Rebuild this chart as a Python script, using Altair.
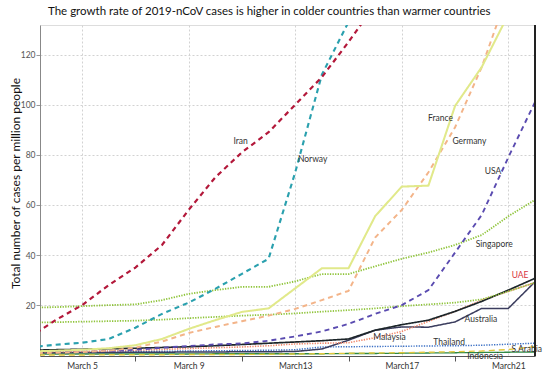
import altair as alt
import pandas as pd

# ---------------- data ----------------
days = list(range(3, 23))  # March 3 .. March 22

iran      = [7, 14, 20, 28, 35, 44, 58, 71, 81, 89, 100, 111, 125, 140]
norway    = [3.1, 4.2, 5, 6.5, 11, 16.5, 21, 26.5, 32.5, 38.5, 73, 112, 133]
france    = [1.5, 1.8, 2.2, 2.8, 4, 6.5, 10.5, 14, 17.3, 18.7, 26.7, 34.7, 34.7, 55.5, 67.3, 67.7, 99.5, 115, 136]
germany   = [0.8, 1.0, 1.3, 1.8, 3, 5.5, 8.9, 11.3, 13.6, 15.8, 18.5, 22, 25.7, 47, 58, 73, 91, 115, 145]
usa       = [1.0, 1.2, 1.4, 1.7, 2.2, 3.0, 3.7, 4.3, 4.7, 5.8, 7.5, 9.5, 12.5, 16.5, 20, 26, 41, 56, 79, 101]
singapore = [19, 19.2, 19.6, 20, 20.3, 22, 24.5, 26, 27.3, 27.3, 29.5, 32.4, 32.4, 35.5, 38.5, 41, 44, 48, 55.5, 62]
green2    = [13, 13.2, 13.4, 13.6, 13.8, 14.2, 14.8, 15.3, 15.8, 16.2, 16.7, 17.4, 18, 18.7, 19.6, 20.3, 21, 22.3, 25.5, 29]
uae       = [2.0, 2.2, 2.4, 2.6, 2.8, 3.1, 3.4, 3.8, 4.3, 4.8, 5.3, 5.8, 6.5, 10, 12.2, 14, 17.5, 21.5, 26, 30.7]
australia = [1.0, 1.0, 1.1, 1.1, 1.2, 1.2, 1.3, 1.3, 1.4, 1.4, 1.5, 2.5, 6, 10, 11.3, 11.2, 13.3, 18.7, 18.7, 29.3]
malaysia  = [1.3, 1.4, 1.5, 1.7, 2.0, 2.3, 2.7, 3.0, 3.3, 3.8, 4.5, 4.8, 5.0, 7.0, 9.5, 13.5, 17.5, 22, 25.5, 29]
thailand  = [1.2, 1.2, 1.3, 1.4, 1.5, 1.6, 1.7, 1.8, 1.9, 2.0, 2.2, 3.3, 3.4, 3.5, 3.6, 3.7, 3.8, 4.0, 4.4, 4.8]
sarabia   = [0.1, 0.1, 0.1, 0.2, 0.2, 0.2, 0.3, 0.3, 0.3, 0.4, 0.5, 0.6, 0.8, 0.9, 1.0, 1.2, 1.4, 1.7, 2.3, 3.4]
indonesia = [0.5, 0.5, 0.5, 0.5, 0.5, 0.5, 0.5, 0.6, 0.6, 0.6, 0.6, 0.6, 0.7, 0.7, 0.8, 0.9, 1.0, 1.1, 1.2, 1.3]

series = {
    "Indonesia": indonesia, "S.Arabia": sarabia, "Thailand": thailand,
    "Australia": australia, "Malaysia": malaysia, "UAE": uae,
    "Green2": green2, "Singapore": singapore, "USA": usa,
    "Germany": germany, "France": france, "Norway": norway, "Iran": iran,
}

label_text  = ["Iran", "Norway", "France", "Germany", "USA", "Singapore", "UAE",
               "Australia", "Malaysia", "Thailand", "Indonesia", "S.Arabia"]
label_day   = [10.95, 13.1, 18.45, 18.9, 20.42, 20.47, 21.44, 19.97, 16.54, 18.78, 20.13, 21.69]
label_value = [85.4, 78.4, 94.6, 85.4, 73.7, 44.3, 32.0, 14.4, 7.2, 5.2, -0.3, 2.5]
label_align = ["center", "left", "center", "left", "center", "center", "center",
               "center", "center", "center", "center", "center"]

rows = []
for name, vals in series.items():
    for d, v in zip(days, vals):
        rows.append({"country": name, "day": d, "value": v})
df = pd.DataFrame(rows)

lab = pd.DataFrame({"label": label_text, "day": label_day, "value": label_value, "align": label_align})

names = list(series.keys())
colors = {
    "Indonesia": "#2f8a45", "S.Arabia": "#e2c73c", "Thailand": "#3a6fc4",
    "Australia": "#3b3d5e", "Malaysia": "#f0876a", "UAE": "#1c2529",
    "Green2": "#8fc43a", "Singapore": "#8fc43a", "USA": "#5a4bb0",
    "Germany": "#f3b489", "France": "#e1e98a", "Norway": "#2aa0ae", "Iran": "#b3183a",
}
dashes = {
    "Indonesia": [1, 0], "S.Arabia": [6, 4], "Thailand": [1.3, 1.3],
    "Australia": [1, 0], "Malaysia": [1.3, 1.3], "UAE": [1, 0],
    "Green2": [1.3, 1.3], "Singapore": [1.3, 1.3], "USA": [5, 4],
    "Germany": [5, 4], "France": [1, 0], "Norway": [5, 4], "Iran": [5, 4],
}
widths = {
    "Indonesia": 1.3, "S.Arabia": 2.2, "Thailand": 1.3,
    "Australia": 1.1, "Malaysia": 1.3, "UAE": 1.3,
    "Green2": 1.4, "Singapore": 1.4, "USA": 1.3,
    "Germany": 1.3, "France": 1.3, "Norway": 1.3, "Iran": 1.3,
}

W, H = 495, 331
xscale = alt.Scale(domain=[3.42, 22.0], nice=False, zero=False)
yscale = alt.Scale(domain=[-0.3, 131.8], nice=False, zero=False)

label_expr = ("datum.value == 5 ? 'March 5' : datum.value == 9 ? 'March 9' : "
              "(datum.value == 13 || datum.value == 17 || datum.value == 21) ? 'March' + datum.value : ''")

lines = alt.Chart(df).mark_line(clip=True).encode(
    x=alt.X("day:Q", scale=xscale, title=None,
            axis=alt.Axis(values=[5, 7, 9, 11, 13, 15, 17, 19, 21], labelExpr=label_expr,
                          grid=True, gridDash=[2, 2], gridColor="#d2d2d2",
                          gridOpacity={"condition": {"test": "(datum.value - 5) % 4 == 0", "value": 1}, "value": 0},
                          tickOpacity={"condition": {"test": "(datum.value - 7) % 4 == 0", "value": 1}, "value": 0},
                          tickSize=5, tickColor="#555", domainColor="#555",
                          labelFontSize=8.5, labelColor="#333", labelPadding=0,
                          labelFont="Lato", labelFlush=False)),
    y=alt.Y("value:Q", scale=yscale,
            title="Total number of cases per million people",
            axis=alt.Axis(values=[20, 40, 60, 80, 100, 120], grid=True, gridDash=[2, 2],
                          gridColor="#d2d2d2", tickSize=4, tickColor="#999", domainColor="#888",
                          labelFontSize=8.5, labelColor="#555", labelPadding=1, labelFont="Lato",
                          titleFont="Lato", titleFontSize=12, titleFontWeight="normal",
                          titleColor="#111", titleAngle=-90, titleAlign="center",
                          titleBaseline="middle", titleX=-25, titleY=158)),
    color=alt.Color("country:N", scale=alt.Scale(domain=names, range=[colors[n] for n in names]), legend=None),
    strokeDash=alt.StrokeDash("country:N", scale=alt.Scale(domain=names, range=[dashes[n] for n in names]), legend=None),
    strokeWidth=alt.StrokeWidth("country:N", scale=alt.Scale(domain=names, range=[widths[n] for n in names]), legend=None),
    detail="country:N",
)

labels_c = alt.Chart(lab[lab["align"] == "center"]).mark_text(
    font="Lato", fontSize=8.5, align="center", baseline="middle"
).encode(
    x=alt.X("day:Q", scale=xscale),
    y=alt.Y("value:Q", scale=yscale),
    text="label:N",
    color=alt.condition(alt.datum.label == "UAE", alt.value("#d8333b"), alt.value("#333333")),
)
labels_l = alt.Chart(lab[lab["align"] == "left"]).mark_text(
    font="Lato", fontSize=8.5, align="left", baseline="middle"
).encode(
    x=alt.X("day:Q", scale=xscale),
    y=alt.Y("value:Q", scale=yscale),
    text="label:N",
    color=alt.value("#333333"),
)

right_border = alt.Chart(lab).mark_rule(color="#222", strokeWidth=2).encode(
    x=alt.value(W), y=alt.value(0), y2=alt.value(H)
)

chart = alt.layer(lines, labels_c, labels_l, right_border).properties(
    width=W, height=H,
    title=alt.TitleParams(
        "The growth rate of 2019-nCoV cases is higher in colder countries than warmer countries",
        font="Lato", fontSize=11.5, fontWeight="normal", color="#111",
        anchor="start", frame="group", dx=8, offset=7,
    ),
    autosize=alt.AutoSizeParams(type="none"),
    padding={"left": 40, "top": 25, "right": 22, "bottom": 20},
).configure_view(stroke="#888", strokeWidth=1).configure(background="white")

chart.save("out.html", embed_options={"renderer": "svg", "actions": False})
